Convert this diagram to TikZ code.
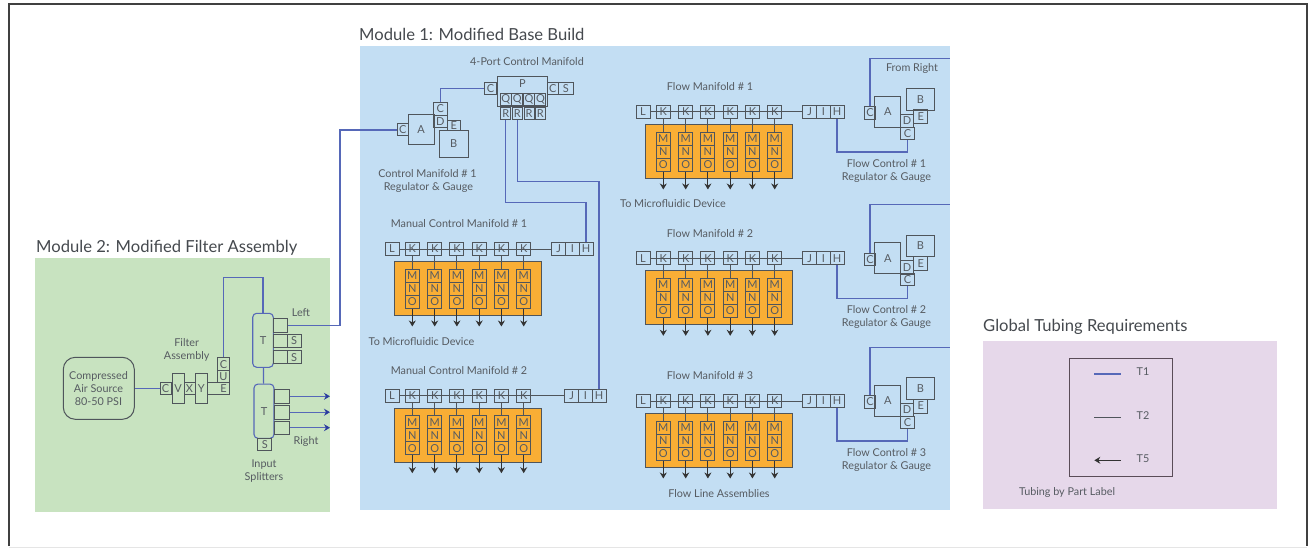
\documentclass[tikz,border=0pt]{standalone}
\usepackage{fontspec}
\setmainfont{Lato}
\usetikzlibrary{arrows.meta}
\definecolor{panelblue}{HTML}{C3DEF3}
\definecolor{panelgreen}{HTML}{C8E3C0}
\definecolor{panelpurple}{HTML}{E6D8EA}
\definecolor{manifoldorange}{HTML}{F9AE35}
\definecolor{tubeblue}{HTML}{5668B8}
\definecolor{tubegrey}{HTML}{4F555B}
\definecolor{labelgrey}{HTML}{565B61}
\definecolor{tipblue}{HTML}{2B3C9E}
\tikzset{
  part/.style={draw=tubegrey, line width=1pt, inner sep=0pt, minimum width=14pt, minimum height=13pt,
    text=labelgrey, font=\fontsize{11}{11}\selectfont},
  orangepart/.style={part, fill=manifoldorange},
  label/.style={text=labelgrey, align=center, inner sep=0pt, font=\fontsize{10.8}{13}\selectfont},
  title/.style={text=labelgrey!80!black, anchor=west, inner sep=0pt, font=\fontsize{16.6}{18}\selectfont},
  t1/.style={draw=tubeblue, line width=1.2pt},
  t2/.style={draw=tubegrey, line width=1pt},
  t5/.style={draw=black!80, line width=0.9pt, -{Stealth[length=6pt,width=7pt]}},
  splitter/.style={draw=tubeblue, line width=1.1pt, rounded corners=4pt, inner sep=0pt, text=labelgrey,
    font=\fontsize{11}{11}\selectfont}
}
\begin{document}
\begin{tikzpicture}[x=1pt,y=-1pt]
    \useasboundingbox (0,0) rectangle (1316,548);
    % Frame and panels
    \draw[black!75, line width=1.4pt] (9,546) -- (9,4) -- (1307,4) -- (1307,546);
    \draw[black!10, line width=0.6pt] (9,547) -- (1307,547);
    \fill[panelblue] (360,46) rectangle (950,510);
    \fill[panelgreen] (35,258.3) rectangle (330,511.7);
    \fill[panelpurple] (982.7,340.7) rectangle (1277.3,509.3);
    \node[title] (titleone) at (359,34) {Module 1: Modified Base Build};
    \node[title] (titletwo) at (36,248) {Module 2: Modified Filter Assembly};
    \node[title] (titleglobal) at (983,327) {Global Tubing Requirements};

    % Define nodes: filter assembly
    \node[part, minimum width=71pt, minimum height=62pt, rounded corners=12pt] (air) at (98.8,388.3) {};
    \node[label] (airtext) at (98.5,389) {Compressed\\Air Source\\80-50 PSI};
    \node[part, minimum width=11pt, minimum height=11.5pt] (cv) at (165.5,388.3) {C};
    \node[part, minimum width=12pt, minimum height=30pt] (v) at (178,388.3) {V};
    \node[part, minimum width=11pt, minimum height=11.5pt] (x) at (189.5,388.3) {X};
    \node[part, minimum width=12.5pt, minimum height=30pt] (y) at (201.3,388.3) {Y};
    \node[part, minimum width=21.6pt, minimum height=11.5pt] (elink) at (218.5,388.3) {};
    \node[part, draw=none, minimum width=11.6pt, minimum height=11.5pt] (e) at (223.5,388.3) {E};
    \node[part, minimum width=11.6pt, minimum height=11.7pt] (u) at (223.5,376.8) {U};
    \node[part, minimum width=11.6pt, minimum height=13pt] (cu) at (223.5,364.4) {C};
    \node[label] (filterlabel) at (186.7,349.5) {Filter\\Assembly};

    % Define nodes: splitters
    \node[splitter, minimum width=20.6pt, minimum height=54pt] (tone) at (263,340.3) {T};
    \node[splitter, minimum width=20pt, minimum height=54.3pt] (ttwo) at (264,411.2) {T};
    \node[part, minimum height=13.3pt] (left) at (280.3,325.4) {};
    \node[part, minimum height=12.7pt] (portb) at (280.3,341.3) {};
    \node[part, minimum height=13.3pt] (portc) at (280.3,357.3) {};
    \node[part, minimum height=13.7pt] (sa) at (294,341) {S};
    \node[part, minimum height=13.3pt] (sb) at (294,357.3) {S};
    \node[part, minimum width=15pt, minimum height=14pt] (porte) at (281.5,396.3) {};
    \node[part, minimum width=15pt, minimum height=13.7pt] (portf) at (281.5,412.2) {};
    \node[part, minimum width=15pt, minimum height=13.3pt] (portg) at (281.5,427.7) {};
    \node[part, minimum height=12.7pt] (sc) at (264.8,444.6) {S};
    \coordinate (righta) at (330,396.3);
    \coordinate (rightb) at (330,412.2);
    \coordinate (rightc) at (330,427.7);
    \coordinate (leftbend) at (340,130);
    \node[label] (leftlabel) at (301,312.7) {Left};
    \node[label] (rightlabel) at (306,442) {Right};
    \node[label] (splitlabel) at (264,471.5) {Input\\Splitters};

    % Define nodes: control regulator
    \node[part, minimum width=11pt, minimum height=12pt] (cc) at (402.8,130) {C};
    \node[part, minimum width=25.7pt, minimum height=30pt] (ca) at (421.2,130) {A};
    \node[part, minimum height=12.3pt] (cctop) at (440.3,108.9) {C};
    \node[part, minimum height=12.3pt] (cd) at (440.3,121.2) {D};
    \node[part, minimum width=13.7pt, minimum height=10.7pt] (ce) at (453.9,125.4) {E};
    \node[part, minimum width=29.3pt, minimum height=26.6pt] (cb) at (453.7,144) {B};
    \node[label] (cmlabel) at (427.5,181.5) {Control Manifold \# 1\\\,Regulator \& Gauge};

    % Define nodes: 4-port manifold
    \node[part, minimum width=12.4pt, minimum height=12.3pt] (pc) at (490.5,88.8) {C};
    \node[part, minimum width=50pt, minimum height=30pt] (pbox) at (522.3,91.7) {};
    \node[part, draw=none, minimum height=9pt] (p) at (522.3,83.3) {P};
    \node[part, minimum width=11pt, minimum height=12.3pt] (prc) at (552.8,88.8) {C};
    \node[part, minimum width=15pt, minimum height=12.3pt] (ps) at (565.8,88.8) {S};
    \foreach \i/\x in {1/505.7,2/517.3,3/529,4/540.4} {
        \node[part, minimum width=11pt, minimum height=12pt] (q\i) at (\x,99.7) {Q};
        \node[part, minimum width=10pt, minimum height=12pt] (r\i) at (\x,114) {R};
    }
    \node[label] (portlabel) at (527,62) {4-Port Control Manifold};

    % Define nodes: the five manifolds (name/x offset/row y/J offset/title)
    \foreach \m/\dx/\y/\j/\name in {
        ma/0/249/0/Manual Control Manifold \# 1,
        mb/0/395.7/13/Manual Control Manifold \# 2,
        fa/251/112/0/Flow Manifold \# 1,
        fb/251/258.3/0/Flow Manifold \# 2,
        fc/251/401/0/Flow Manifold \# 3} {
        \fill[manifoldorange, draw=tubegrey, line width=1.1pt] (394.3+\dx,\y+12.5) rectangle (541.7+\dx,\y+66.5);
        \node[label] (\m title) at (459+\dx,\y-25) {\name};
        \node[part] (\m l) at (392+\dx,\y) {L};
        \node[part] (\m j) at (558.7+\dx+\j,\y) {J};
        \node[part] (\m i) at (572.4+\dx+\j,\y) {I};
        \node[part] (\m h) at (586+\dx+\j,\y) {H};
        \foreach \i/\x in {1/412.3,2/434.7,3/456.9,4/479.2,5/501.4,6/523.7} {
            \node[part] (\m k\i) at (\x+\dx,\y) {K};
            \node[orangepart] (\m m\i) at (\x+\dx,\y+26.7) {M};
            \node[orangepart] (\m n\i) at (\x+\dx,\y+39.7) {N};
            \node[orangepart] (\m o\i) at (\x+\dx,\y+52.7) {O};
            \coordinate (\m e\i) at (\x+\dx,\y+77.5);
            \draw[t2] (\m k\i) -- (\m m\i);
            \draw[t5] (\m o\i) -- (\m e\i);
        }
        \draw[t2] (\m l) -- (\m j);
    }
    \node[label] (devicea) at (421.5,342) {To Microfluidic Device};
    \node[label] (deviceb) at (673,204) {To Microfluidic Device};
    \node[label] (assemblies) at (719,494) {Flow Line Assemblies};

    % Define nodes: flow regulators (name/row y/number)
    \foreach \m/\y/\n in {fa/112/1,fb/258.3/2,fc/401/3} {
        \node[part, minimum width=11.5pt, minimum height=12.3pt] (\m rc) at (870,\y+1) {C};
        \node[part, minimum width=25.7pt, minimum height=31pt] (\m ra) at (887.8,\y) {A};
        \node[part, minimum width=27.3pt, minimum height=21.6pt] (\m rb) at (920.4,\y-12.5) {B};
        \node[part, minimum height=14pt] (\m re) at (920.8,\y+5) {E};
        \node[part, minimum width=12.5pt, minimum height=13.4pt] (\m rd) at (907,\y+9) {D};
        \node[part, minimum height=12pt] (\m rf) at (907.5,\y+21.3) {C};
        \coordinate (\m edge) at (950,\y-53.8);
        \node[label] (\m rlabel) at (886.5,\y+59) {Flow Control \# \n\\Regulator \& Gauge};
        % Draw tubing
        \draw[t1] (\m rc.north) |- (\m edge);
        \draw[t1] (\m h.south) -- (\m h.south |- 0,\y+40) -| (\m rf.south);
    }
    \node[label] (fromright) at (912,69) {From Right};

    % Draw tubing
    \draw[t1] (air) -- (cv);
    \draw[t1] (cu.north) -- (cu.north |- 0,277.7) -| (tone.north);
    \draw[t1] (tone) -- (ttwo);
    \draw[t1] (left.east) -| (leftbend) -- (cc.west);
    \draw[t1] (cctop.north) |- (pc.west);
    \draw[t1] (r1.south) -- (r1.south |- 0,202.3) -| (mah.north);
    \draw[t1] (r2.south) -- (r2.south |- 0,181.7) -| (mbh.north);
    \foreach \p/\e in {porte/righta,portf/rightb,portg/rightc}
        \draw[t1, -{Stealth[length=6pt,width=7pt,color=tipblue]}] (\p) -- (\e);

    % Legend
    \node[draw=tubegrey!90!purple, line width=1.2pt, minimum width=103.4pt, minimum height=118.4pt, inner sep=0pt] (legend) at (1121,417.5) {};
    \foreach \a/\y/\n in {a/374/T1,b/417.3/T2,c/460.3/T5} {
        \coordinate (\a west) at (1094.3,\y);
        \coordinate (\a east) at (1120.7,\y);
        \node[label] (\a text) at (1143,\y-2) {\n};
    }
    \draw[t1] (awest) -- (aeast);
    \draw[t2] (bwest) -- (beast);
    \draw[t5] (ceast) -- (cwest);
    \node[label] (tubinglabel) at (1067,492.7) {Tubing by Part Label};
\end{tikzpicture}
\end{document}
